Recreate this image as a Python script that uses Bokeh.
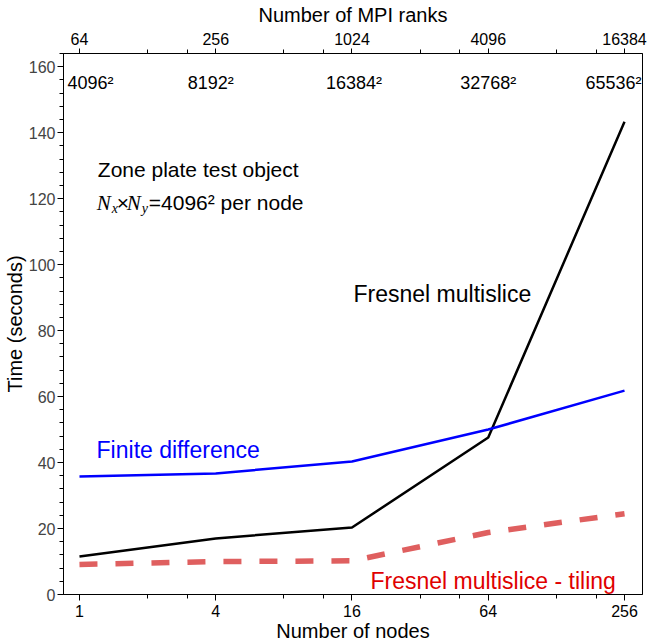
from bokeh.plotting import figure
from bokeh.models import (LogAxis, FixedTicker, Range1d, LogScale, Label,
                          ColumnDataSource)
from bokeh.core.properties import value
from bokeh.embed import file_html
from bokeh.resources import INLINE

# ---- data ----
nodes = [1, 4, 16, 64, 256]
node_labels = ["1", "4", "16", "64", "256"]
ranks = [64, 256, 1024, 4096, 16384]
rank_labels = ["64", "256", "1024", "4096", "16384"]
grid_labels = ["4096\u00b2", "8192\u00b2", "16384\u00b2", "32768\u00b2", "65536\u00b2"]

fresnel = [11.5, 17.0, 20.3, 47.6, 143.3]
finite_diff = [35.8, 36.7, 40.3, 50.0, 61.8]
tiling = [9.1, 10.0, 10.2, 18.8, 24.5]

y_ticks = [0, 20, 40, 60, 80, 100, 120, 140, 160]

FONT = "Liberation Sans"
SERIF = "Liberation Serif"

xmin, xmax = 0.85, 307.4
p = figure(frame_width=579, frame_height=541, x_axis_type="log",
           x_range=Range1d(xmin, xmax), y_range=Range1d(0, 164),
           output_backend="svg", toolbar_location=None,
           min_border_left=0, min_border_right=6, min_border_top=0,
           min_border_bottom=0, background_fill_color="white")
p.extra_x_ranges = {"ranks": Range1d(xmin * 64, xmax * 64)}
p.extra_x_scales = {"ranks": LogScale()}
p.grid.visible = False
p.outline_line_color = "black"
p.outline_line_width = 1
p.outline_line_alpha = 1

# lines
p.line(nodes, fresnel, line_color="black", line_width=2.5)
p.line(nodes, finite_diff, line_color="#0000ff", line_width=2.5)
p.line(nodes, tiling, line_color="#df5f5f", line_width=5.5, line_dash="18 18")

def style_axis(ax, label_color):
    ax.axis_line_color = "black"
    ax.major_tick_line_color = "black"
    ax.minor_tick_line_color = "black"
    ax.major_tick_in = 0
    ax.major_tick_out = 6
    ax.minor_tick_in = 0
    ax.minor_tick_out = 4
    ax.major_label_text_font = FONT
    ax.major_label_text_font_size = "16px"
    ax.major_label_text_color = label_color
    ax.axis_label_text_font = FONT
    ax.axis_label_text_font_size = "20px"
    ax.axis_label_text_font_style = "normal"
    ax.axis_label_text_color = "black"

# bottom axis
xa = p.xaxis[0]
xa.ticker = FixedTicker(ticks=nodes, minor_ticks=[2, 3, 8, 12, 32, 48, 128, 192])
xa.major_label_overrides = dict(zip(nodes, node_labels))
xa.axis_label = "Number of nodes"
style_axis(xa, "black")
xa.major_label_standoff = 4
xa.axis_label_standoff = 0

# left axis
ya = p.yaxis[0]
ya.ticker = FixedTicker(ticks=y_ticks, minor_ticks=list(range(0, 165, 4)))
ya.axis_label = "Time (seconds)"
style_axis(ya, "#444444")
ya.major_label_standoff = 2
ya.axis_label_standoff = 0

# top axis
top = LogAxis(x_range_name="ranks", axis_label="Number of MPI ranks")
top.ticker = FixedTicker(ticks=ranks,
                         minor_ticks=[128, 192, 512, 768, 2048, 3072, 8192, 12288])
top.major_label_overrides = dict(zip(ranks, rank_labels))
style_axis(top, "black")
top.major_tick_out = 5
top.major_label_standoff = 4
top.axis_label_standoff = 4
p.add_layout(top, "above")

# grid size labels inside the top of the frame
src = ColumnDataSource(dict(
    x=nodes, y=[155.2] * 5, text=grid_labels,
    align=["left", "center", "center", "center", "right"],
    xoff=[-12, -5, 2, 0, 17],
))
p.text(x="x", y="y", text="text", source=src, text_align="align",
       x_offset="xoff", text_baseline="alphabetic",
       text_font=value(FONT), text_font_size="18px", text_color="black")

def add_label(x, y, text, size, color="black", font=FONT, style="normal",
              xoff=0, yoff=0, align="left"):
    p.add_layout(Label(x=x, y=y, text=text, text_font=font,
                       text_font_size=size, text_color=color,
                       text_font_style=style, x_offset=xoff, y_offset=yoff,
                       text_align=align, text_baseline="alphabetic"))

add_label(1.205, 128.8, "Zone plate test object", "21px")
# N_x x N_y = 4096^2 per node
add_label(1.205, 118.8, "N", "21px", font=SERIF, style="italic", xoff=-1)
add_label(1.205, 118.8, "x", "14px", font=SERIF, style="italic", xoff=14, yoff=-6)
add_label(1.205, 118.8, "\u00d7", "21px", xoff=19)
add_label(1.205, 118.8, "N", "21px", font=SERIF, style="italic", xoff=29)
add_label(1.205, 118.8, "y", "14px", font=SERIF, style="italic", xoff=44, yoff=-6)
add_label(1.205, 118.8, "=4096\u00b2 per node", "21px", xoff=51)

add_label(16.25, 91.2, "Fresnel multislice", "23px", color="black")
add_label(1.19, 43.7, "Finite difference", "23px", color="#0000ff")
add_label(19.3, 4.2, "Fresnel multislice - tiling", "23px", color="#e00000")

open("out.html", "w").write(file_html(p, INLINE))
